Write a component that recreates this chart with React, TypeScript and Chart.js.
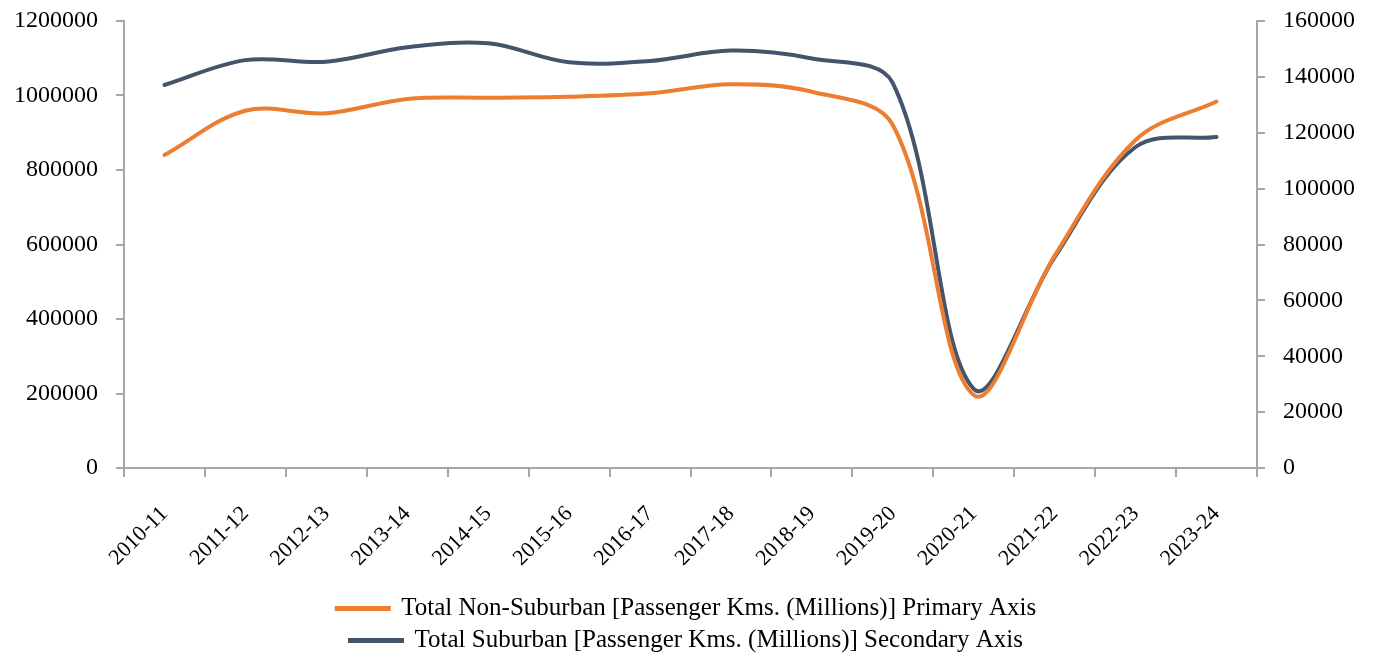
import React, { useEffect, useRef } from "react";
import { Chart, registerables } from "chart.js";

Chart.register(...registerables);

const categories = [
  "2010-11", "2011-12", "2012-13", "2013-14", "2014-15", "2015-16", "2016-17",
  "2017-18", "2018-19", "2019-20", "2020-21", "2021-22", "2022-23", "2023-24",
];

const nonSuburban = [
  840300, 959200, 952200, 990600, 994100, 996800, 1005900,
  1030100, 1010200, 920800, 196000, 570000, 880500, 983900,
];

const suburban = [
  137100, 146000, 145400, 150600, 152000, 145200, 145700,
  149400, 146600, 137800, 28300, 75500, 114900, 118500,
];

const primaryTicks = { min: 0, max: 1200000, step: 200000 };
const secondaryTicks = { min: 0, max: 160000, step: 20000 };

const seriesLabels = [
  "Total Non-Suburban [Passenger Kms. (Millions)] Primary Axis",
  "Total Suburban [Passenger Kms. (Millions)] Secondary Axis",
];

const FONT = "'Liberation Serif', 'Times New Roman', serif";
const AXIS_COLOR = "#A6A6A6";

export default function App() {
  const ref = useRef<HTMLCanvasElement | null>(null);

  useEffect(() => {
    if (!ref.current) return;
    const plain = (v: any) => String(v);
    const noPad = (s: any) => {
      s.paddingTop = 0;
      s.paddingBottom = 0;
      s.paddingLeft = 0;
      s.paddingRight = 0;
    };
    const chart = new Chart(ref.current, {
      type: "line",
      data: {
        labels: categories,
        datasets: [
          {
            label: seriesLabels[0],
            data: nonSuburban,
            borderColor: "#ED7D31",
            backgroundColor: "#ED7D31",
            borderWidth: 4,
            pointRadius: 0,
            tension: 0.35,
            yAxisID: "y",
            borderCapStyle: "round",
          },
          {
            label: seriesLabels[1],
            data: suburban,
            borderColor: "#44546A",
            backgroundColor: "#44546A",
            borderWidth: 4,
            pointRadius: 0,
            tension: 0.35,
            yAxisID: "y1",
            borderCapStyle: "round",
          },
        ],
      },
      options: {
        animation: false,
        responsive: false,
        maintainAspectRatio: false,
        layout: { padding: { top: 13, bottom: -5, left: 0, right: 0 } },
        plugins: {
          tooltip: { enabled: false },
          legend: {
            position: "bottom",
            labels: {
              color: "#000",
              font: { family: FONT, size: 25 },
              boxWidth: 52,
              boxHeight: 1,
              padding: 7,
            },
          },
        },
        scales: {
          x: {
            offset: true,
            grid: {
              offset: true,
              drawOnChartArea: false,
              drawTicks: true,
              tickLength: 9,
              color: AXIS_COLOR,
              lineWidth: 2,
            },
            border: { color: AXIS_COLOR, width: 2 },
            ticks: {
              color: "#000",
              font: { family: FONT, size: 22 },
              minRotation: 45,
              maxRotation: 45,
              autoSkip: false,
              padding: 24,
            },
            afterFit: (s: any) => {
              s.height = 121;
              noPad(s);
            },
          },
          y: {
            position: "left",
            min: primaryTicks.min,
            max: primaryTicks.max,
            ticks: {
              stepSize: primaryTicks.step,
              color: "#000",
              font: { family: FONT, size: 24 },
              padding: 18,
              callback: plain,
            },
            grid: {
              drawOnChartArea: false,
              drawTicks: true,
              tickLength: 8,
              color: AXIS_COLOR,
              lineWidth: 2,
            },
            border: { color: AXIS_COLOR, width: 2 },
            afterFit: (s: any) => {
              s.width = 116;
              noPad(s);
            },
          },
          y1: {
            position: "right",
            min: secondaryTicks.min,
            max: secondaryTicks.max,
            ticks: {
              stepSize: secondaryTicks.step,
              color: "#000",
              font: { family: FONT, size: 24 },
              padding: 18,
              callback: plain,
            },
            grid: {
              drawOnChartArea: false,
              drawTicks: true,
              tickLength: 8,
              color: AXIS_COLOR,
              lineWidth: 2,
            },
            border: { color: AXIS_COLOR, width: 2 },
            afterFit: (s: any) => {
              s.width = 108;
              noPad(s);
            },
          },
        },
      },
    });
    return () => chart.destroy();
  }, []);

  return (
    <div style={{ position: "absolute", left: 8, top: 8, width: 1357, height: 650 }}>
      <canvas ref={ref} width={1357} height={650} style={{ display: "block" }} />
    </div>
  );
}
